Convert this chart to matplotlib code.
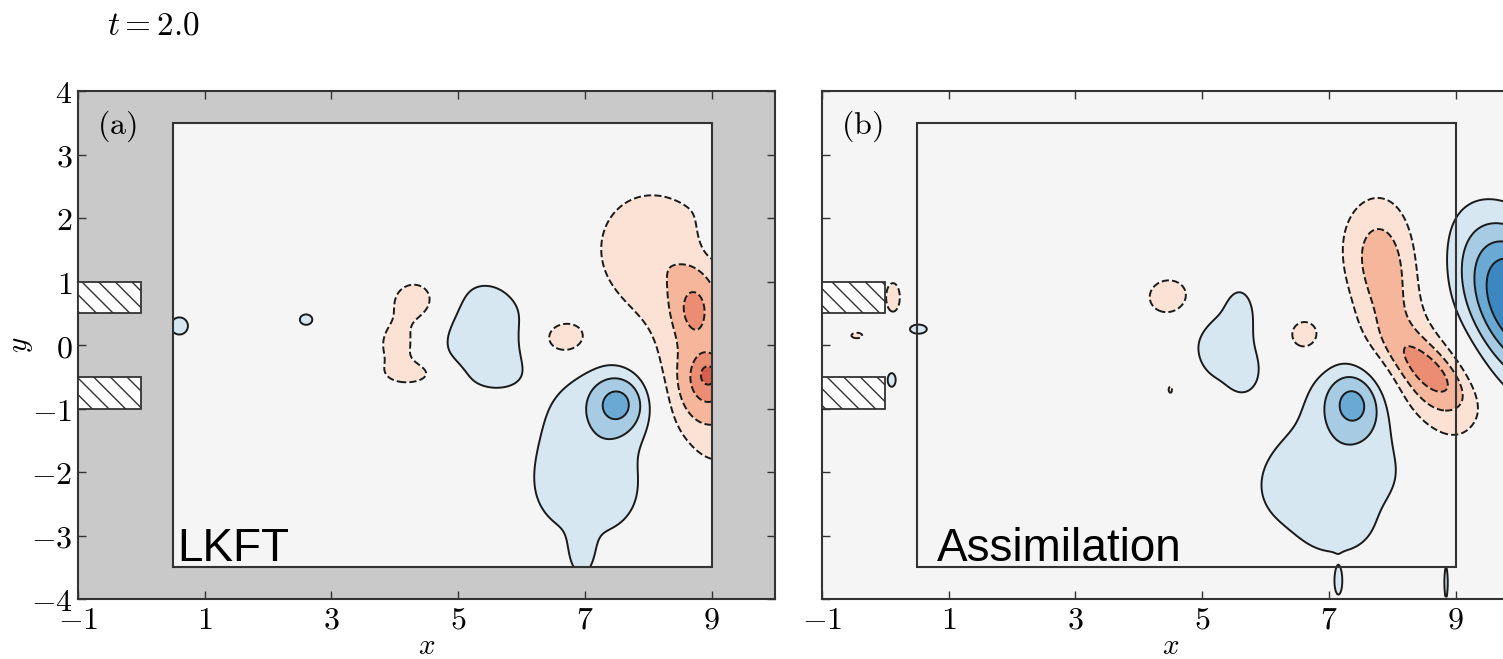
import numpy as np
import matplotlib.pyplot as plt
from matplotlib.patches import Rectangle

plt.rcParams['mathtext.fontset'] = 'cm'
plt.rcParams['hatch.linewidth'] = 1.0

# vortex patches for each panel: centre, strength, widths, tilt (deg)
lkft_cx = [7.2, 7.0, 6.95, 7.55, 5.4, 0.6, 2.6, 9.05,
           7.95, 8.95, 8.9, 8.72, 8.95, 4.35, 4.05, 4.3, 6.65]
lkft_cy = [-1.6, -2.4, -3.3, -0.9, 0.2, 0.3, 0.4, 1.75,
           1.5, -0.4, -0.65, 0.58, -0.45, 0.7, 0.0, -0.45, 0.1]
lkft_amp = [1.4, 0.8, 1.2, 2.6, 1.6, 1.5, 1.4, 1.5,
            -1.6, -2.0, -1.5, -1.5, -1.1, -1.8, -1.6, -1.5, -2.0]
lkft_sx = [0.95, 0.6, 0.15, 0.36, 0.62, 0.15, 0.12, 0.15,
           0.7, 0.7, 0.4, 0.22, 0.15, 0.32, 0.25, 0.35, 0.33]
lkft_sy = [1.05, 0.5, 0.3, 0.36, 0.75, 0.15, 0.1, 0.25,
           0.8, 1.35, 0.45, 0.35, 0.18, 0.28, 0.3, 0.15, 0.25]
lkft_rot = [0, 0, 0, 0, 0, 0, 0, 0,
            0, 0, 0, 0, 0, 0, 0, 0, 0]

assim_cx = [7.25, 6.4, 7.1, 7.4, 5.35, 5.6, 5.65, 10.0, 0.52, 0.1, 7.15, 8.85,
            7.6, 7.95, 8.6, 8.6, 4.5, 6.6, 0.12, -0.45, 4.5]
assim_cy = [-1.85, -2.3, -2.95, -0.87, 0.0, 0.6, -0.45, 0.65, 0.25, -0.55, -3.75, -3.75,
            1.6, 1.0, -0.6, -0.4, 0.75, 0.15, 0.75, 0.15, -0.7]
assim_amp = [1.5, 0.8, 0.8, 2.6, 1.4, 0.8, 0.8, 5.5, 1.5, 1.5, 1.3, 1.3,
             -1.1, -1.9, -2.6, -1.2, -1.7, -1.6, -1.5, -1.3, -1.3]
assim_sx = [0.95, 0.45, 0.4, 0.36, 0.5, 0.15, 0.15, 0.55, 0.15, 0.07, 0.06, 0.035,
            0.4, 0.4, 0.45, 0.55, 0.33, 0.25, 0.12, 0.12, 0.06]
assim_sy = [0.95, 0.45, 0.3, 0.4, 0.6, 0.25, 0.2, 0.95, 0.08, 0.12, 0.2, 0.3,
            0.6, 0.85, 0.75, 0.2, 0.28, 0.25, 0.25, 0.06, 0.12]
assim_rot = [0, 0, 0, 0, 0, 0, 0, 25, 0, 0, 0, 0,
             0, 0, 30, -40, 0, 0, 0, 0, 0]

levels = [-20, -4, -3, -2, -1, 1, 2, 3, 4, 20]
fill_colors = ['#d6604d', '#eb8d72', '#f5b69c', '#fbe2d4', '#f5f5f5',
               '#d7e7f2', '#a6cbe3', '#69a9d3', '#3d87c0']


def vorticity(X, Y, cx, cy, amp, sx, sy, rot):
    w = np.zeros_like(X)
    for x0, y0, a, s1, s2, th in zip(cx, cy, amp, sx, sy, rot):
        t = np.deg2rad(th)
        u = (X - x0) * np.cos(t) + (Y - y0) * np.sin(t)
        v = -(X - x0) * np.sin(t) + (Y - y0) * np.cos(t)
        w += a * np.exp(-(u**2 / (2 * s1**2) + v**2 / (2 * s2**2)))
    return w


fig = plt.figure(figsize=(15.03, 6.59), dpi=100)
ax1 = fig.add_axes([0.0519, 0.0910, 0.4637, 0.7709])
ax2 = fig.add_axes([0.5469, 0.0910, 0.4637, 0.7709])

# panel (a): field only inside the window
xa = np.linspace(0.5, 9.0, 400)
ya = np.linspace(-3.5, 3.5, 330)
Xa, Ya = np.meshgrid(xa, ya)
Wa = vorticity(Xa, Ya, lkft_cx, lkft_cy, lkft_amp, lkft_sx, lkft_sy, lkft_rot)

# panel (b): whole domain
xb = np.linspace(-1.0, 10.5, 520)
yb = np.linspace(-4.0, 4.0, 370)
Xb, Yb = np.meshgrid(xb, yb)
Wb = vorticity(Xb, Yb, assim_cx, assim_cy, assim_amp, assim_sx, assim_sy, assim_rot)

ax1.set_facecolor('#c9c9c9')
ax2.set_facecolor('#f5f5f5')
ax1.add_patch(Rectangle((0.5, -3.5), 8.5, 7, facecolor='#f5f5f5', edgecolor='none', zorder=0.5))

for ax, X, Y, W in [(ax1, Xa, Ya, Wa), (ax2, Xb, Yb, Wb)]:
    ax.contourf(X, Y, W, levels=levels, colors=fill_colors, zorder=1)
    ax.contour(X, Y, W, levels=levels[1:-1], colors='#1a1a1a', linewidths=1.4, zorder=2)
    ax.add_patch(Rectangle((0.5, -3.5), 8.5, 7, fill=False, edgecolor='#333333', lw=1.5, zorder=3))
    for yc in [0.5, -1.0]:
        ax.add_patch(Rectangle((-1.0, yc), 1.0, 0.5, facecolor='white', edgecolor='#333333',
                               hatch='\\\\', lw=1.3, zorder=3))
    ax.set_xlim(-1, 10)
    ax.set_ylim(-4, 4)
    ax.set_xticks([-1, 1, 3, 5, 7, 9])
    ax.set_xticklabels(['$-1$', '$1$', '$3$', '$5$', '$7$', '$9$'], fontsize=23)
    ax.set_yticks(range(-4, 5))
    ax.tick_params(direction='in', top=True, right=True, length=6, width=1, color='#333333', pad=4)
    ax.set_xlabel('$x$', fontsize=21, va='center')
    ax.xaxis.set_label_coords(0.5, -0.093)
    for s in ax.spines.values():
        s.set_color('#333333')
        s.set_linewidth(1.5)

ax1.set_yticklabels(['$%d$' % v if v >= 0 else '$-%d$' % -v for v in range(-4, 5)], fontsize=23)
ax2.set_yticklabels([])
ax1.set_ylabel('$y$', fontsize=21)
ax1.yaxis.set_label_coords(-0.062, 0.5)

ax1.text(-0.7, 3.45, r'$\mathrm{(a)}$', fontsize=23, va='center', ha='left', zorder=4)
ax2.text(-0.7, 3.45, r'$\mathrm{(b)}$', fontsize=23, va='center', ha='left', zorder=4)
ax1.text(0.57, -3.4, 'LKFT', fontsize=33, family='Liberation Sans', va='baseline', zorder=4)
ax2.text(0.81, -3.4, 'Assimilation', fontsize=33, family='Liberation Sans', va='baseline', zorder=4)
fig.text(0.071, 0.948, '$t = 2.0$', fontsize=24)

fig.savefig('out.png', dpi=100)
